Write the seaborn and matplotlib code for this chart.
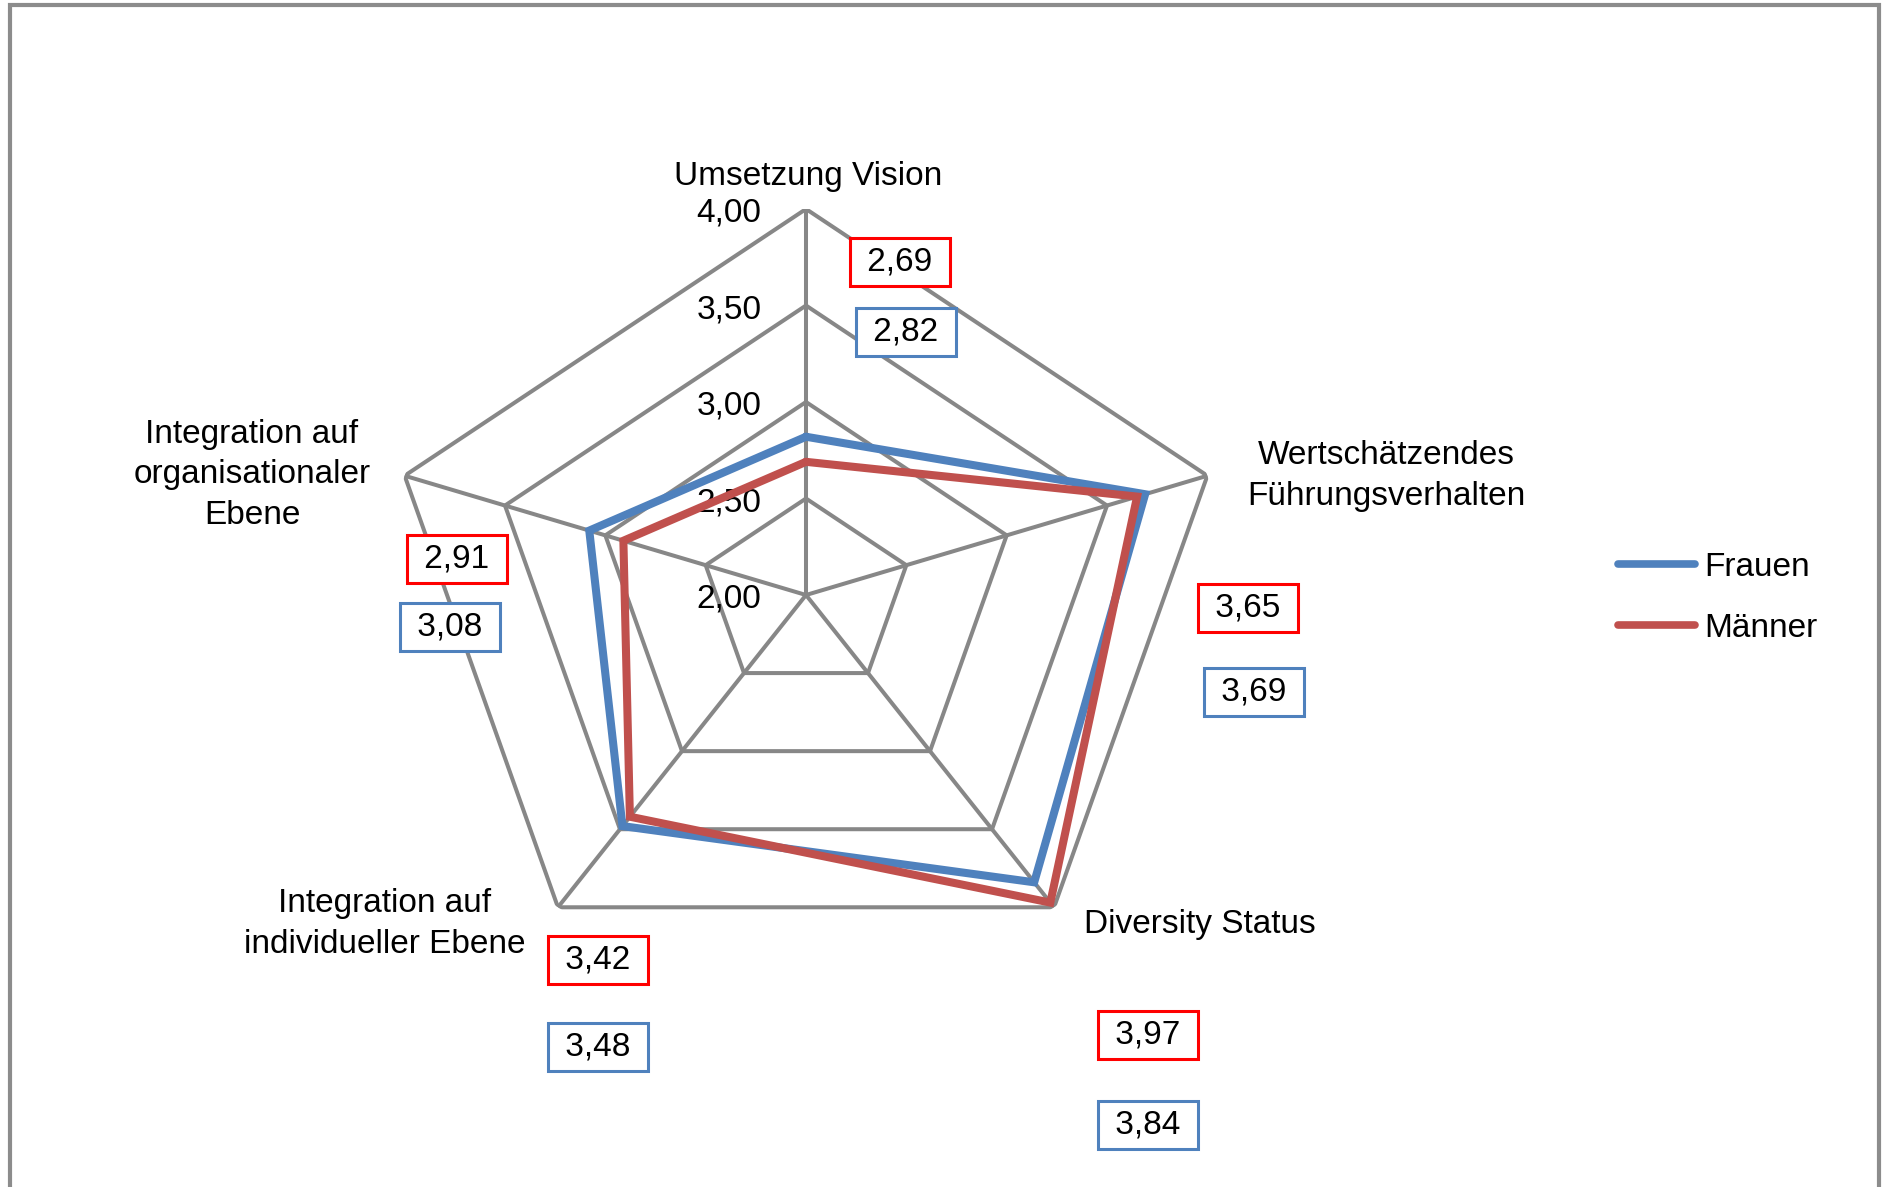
import numpy as np
import pandas as pd
import seaborn as sns
import matplotlib.pyplot as plt
from matplotlib.patches import Rectangle

# Kategorien im Uhrzeigersinn ab oben
kategorien = ["Umsetzung Vision", "Wertschätzendes\nFührungsverhalten", "Diversity Status",
              "Integration auf\nindividueller Ebene", "Integration auf\norganisationaler\nEbene"]
frauen = [2.82, 3.69, 3.84, 3.48, 3.08]
maenner = [2.69, 3.65, 3.97, 3.42, 2.91]
stufen = [2.0, 2.5, 3.0, 3.5, 4.0]
stufen_text = ["2,00", "2,50", "3,00", "3,50", "4,00"]

W, H = 1885, 1187
GRAU = "#878787"
BLAU = "#4F81BD"
ROT = "#C0504D"

sns.set_theme(style="white")
plt.rcParams["font.family"] = ["Liberation Sans", "DejaVu Sans"]
plt.rcParams["text.color"] = "black"
FS = 24

fig = plt.figure(figsize=(W / 100, H / 100), dpi=100, facecolor="white")

def px(x, y):
    return x / W, 1 - y / H

# Polar-Achse, leicht in die Breite gezogen wie im Original
cx, cy, rx, ry = 806, 595, 422, 386
ax = fig.add_axes([(cx - rx) / W, 1 - (cy + ry) / H, 2 * rx / W, 2 * ry / H], projection="polar")
ax.set_aspect("auto")
ax.set_theta_zero_location("N")
ax.set_theta_direction(-1)
ax.set_ylim(2.0, 4.0)
ax.grid(False)
ax.spines["polar"].set_visible(False)
ax.set_xticks([])
ax.set_yticks([])
ax.set_facecolor("none")

theta = np.linspace(0, 2 * np.pi, len(kategorien), endpoint=False)
theta_zu = np.append(theta, theta[0])

# Netz
for s in stufen[1:]:
    ax.plot(theta_zu, [s] * len(theta_zu), color=GRAU, lw=2.9, zorder=1)
for t in theta:
    ax.plot([t, t], [stufen[0], stufen[-1]], color=GRAU, lw=2.9, zorder=1)

for s, lab in zip(stufen, stufen_text):
    ax.annotate(lab, xy=(0, s), xytext=(-32, -3), textcoords="offset points",
                ha="right", va="center", fontsize=FS, color="black", zorder=3)

df = pd.concat([
    pd.DataFrame({"theta": theta_zu, "wert": frauen + frauen[:1], "gruppe": "Frauen"}),
    pd.DataFrame({"theta": theta_zu, "wert": maenner + maenner[:1], "gruppe": "Männer"}),
])
sns.lineplot(data=df, x="theta", y="wert", hue="gruppe", sort=False, estimator=None,
             palette={"Frauen": BLAU, "Männer": ROT}, linewidth=5.8, legend=False, ax=ax, zorder=4)
for ln in ax.lines[-2:]:
    ln.set_solid_joinstyle("miter")
ax.set_xlabel("")
ax.set_ylabel("")

# Kategorie-Beschriftungen
kat_pos = [(808, 176), (1386, 476), (1200, 925), (385, 924), (252, 475)]
for lab, (x, y) in zip(kategorien, kat_pos):
    fig.text(*px(x, y), lab, ha="center", va="center", fontsize=FS, linespacing=1.38)

# Datenbeschriftungen (Kästchen)
rot_pos = [(900, 262), (1248, 608), (1148, 1035), (598, 960), (457, 559)]
blau_pos = [(906, 332), (1254, 692), (1148, 1125), (598, 1047), (450, 627)]
for werte, pos, farbe in [(maenner, rot_pos, "#FF0000"), (frauen, blau_pos, BLAU)]:
    for v, (x, y) in zip(werte, pos):
        fig.text(*px(x, y), " " + f"{v:.2f}".replace(".", ",") + " ", ha="center", va="center",
                 fontsize=FS, bbox=dict(boxstyle="square,pad=0.26", fc="white", ec=farbe, lw=2.2))

# Legende
handles = [plt.Line2D([], [], color=BLAU, lw=5.5, solid_capstyle="round"),
           plt.Line2D([], [], color=ROT, lw=5.5, solid_capstyle="round")]
fig.legend(handles, ["Frauen", "Männer"], loc="center left", bbox_to_anchor=px(1618, 598),
           frameon=False, fontsize=FS, handlelength=2.3, handletextpad=0.3,
           labelspacing=0.9, borderpad=0, borderaxespad=0)

# Rahmen
fig.patches.append(Rectangle(px(10, 1300), (1879 - 10) / W, (1300 - 5) / H, transform=fig.transFigure,
                             fill=False, ec="#8C8C8C", lw=3, clip_on=False))

fig.savefig("out.png", dpi=100, facecolor="white")
